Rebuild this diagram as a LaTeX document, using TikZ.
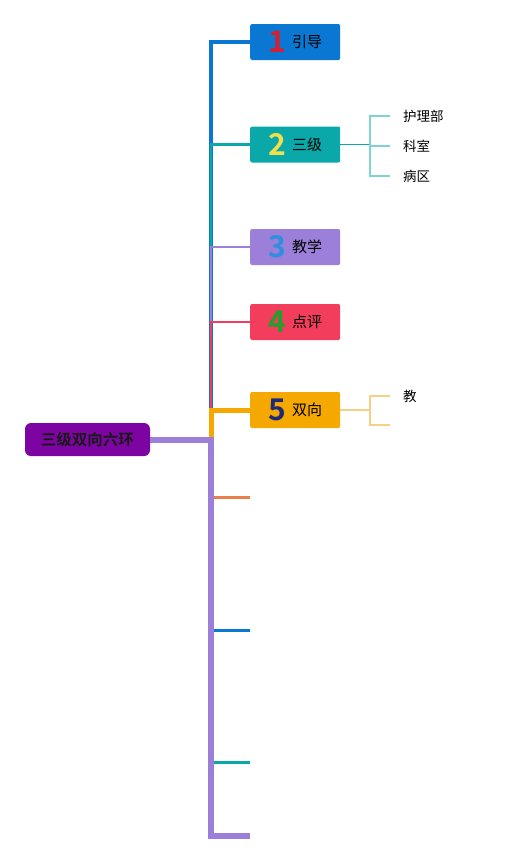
\documentclass[tikz,border=0pt]{standalone}
\usepackage{fontspec}
\newfontfamily\cjk{Noto Sans CJK SC}
\newfontfamily\cjkbold{Noto Sans CJK SC Bold}
\usetikzlibrary{positioning}

\definecolor{rootfill}{HTML}{7E03A3}
\definecolor{mblue}{HTML}{0A78D2}
\definecolor{mteal}{HTML}{0AA8A8}
\definecolor{mlav}{HTML}{9B7FD8}
\definecolor{mred}{HTML}{F23D5C}
\definecolor{morange}{HTML}{F5A800}
\definecolor{msalmon}{HTML}{E8804A}
\definecolor{lteal}{HTML}{80D4D0}
\definecolor{lorange}{HTML}{F7D085}
\definecolor{dred}{HTML}{D42030}
\definecolor{dyellow}{HTML}{F2E04A}
\definecolor{dblue}{HTML}{2E8EE0}
\definecolor{dgreen}{HTML}{22A02A}
\definecolor{dnavy}{HTML}{1E2A78}

\tikzset{
  topic/.style={rounded corners=2pt, minimum width=90pt, minimum height=36pt,
    anchor=west, inner sep=0pt, font=\cjk\fontsize{15}{16}\selectfont},
  leaf/.style={anchor=west, inner xsep=13pt, inner ysep=2pt,
    font=\cjk\fontsize{13.5}{16}\selectfont},
  branch/.style={line cap=butt, line join=miter},
}
\newcommand{\num}[2]{\raisebox{-5.5pt}{\cjkbold\fontsize{30}{30}\selectfont\color{#1}#2}\hspace{6pt}}

\begin{document}
\begin{tikzpicture}[x=1pt,y=-1pt]
  \useasboundingbox (0,0) rectangle (507,863);

  % root and junction
  \node[fill=rootfill, rounded corners=6pt, minimum width=125pt, minimum height=33pt,
    inner sep=0pt, font=\cjkbold\fontsize{15.5}{16}\selectfont, text=black!90]
    (root) at (87.5,439.5) {三级双向六环};
  \coordinate (jct) at (211,439.5);

  % main topics
  \node[topic, fill=mblue]   (b1) at (250,42)  {\num{dred}{1}引导};
  \node[topic, fill=mteal]   (b2) at (250,144.5) {\num{dyellow}{2}三级};
  \node[topic, fill=mlav]    (b3) at (250,247) {\num{dblue}{3}教学};
  \node[topic, fill=mred]    (b4) at (250,322) {\num{dgreen}{4}点评};
  \node[topic, fill=morange] (b5) at (250,410) {\num{dnavy}{5}双向};

  % empty branch ends
  \coordinate (b6) at (250,497);
  \coordinate (b7) at (250,630);
  \coordinate (b8) at (250,762);
  \coordinate (b9) at (250,836);

  % branches, upper ones drawn first
  \draw[branch, mblue, line width=4pt]   (jct) |- (b1.west);
  \draw[branch, mteal, line width=2.5pt] (jct) |- (b2.west);
  \draw[branch, mlav, line width=2pt]    (jct) |- (b3.west);
  \draw[branch, mred, line width=2pt]    (jct) |- (b4.west);
  \draw[branch, morange, line width=5pt] (jct) |- (b5.west);

  \draw[branch, msalmon, line width=3pt] (jct) |- (b6);
  \draw[branch, mblue, line width=3pt]   (jct) |- (b7);
  \draw[branch, mteal, line width=3pt]   (jct) |- (b8);
  \draw[branch, mlav, line width=6pt]    (root.east) -- (jct) |- (b9);

  % leaves of 2
  \coordinate (f2) at (370,144.5);
  \node[leaf] (l21) at (390,116) {护理部};
  \node[leaf] (l22) at (390,146) {科室};
  \node[leaf] (l23) at (390,176) {病区};
  \draw[mteal, line width=1.5pt] (b2.east) -- (f2);
  \draw[lteal, line width=1.5pt] (f2) |- (l21.west);
  \draw[lteal, line width=1.5pt] (f2) |- (l22.west);
  \draw[lteal, line width=1.5pt] (f2) |- (l23.west);

  % leaves of 5
  \coordinate (f5) at (370,410);
  \node[leaf] (l51) at (390,396) {教};
  \coordinate (l52) at (390,425);
  \draw[lorange, line width=1.5pt] (b5.east) -- (f5);
  \draw[lorange, line width=1.5pt] (f5) |- (l51.west);
  \draw[lorange, line width=1.5pt] (f5) |- (l52);
\end{tikzpicture}
\end{document}
